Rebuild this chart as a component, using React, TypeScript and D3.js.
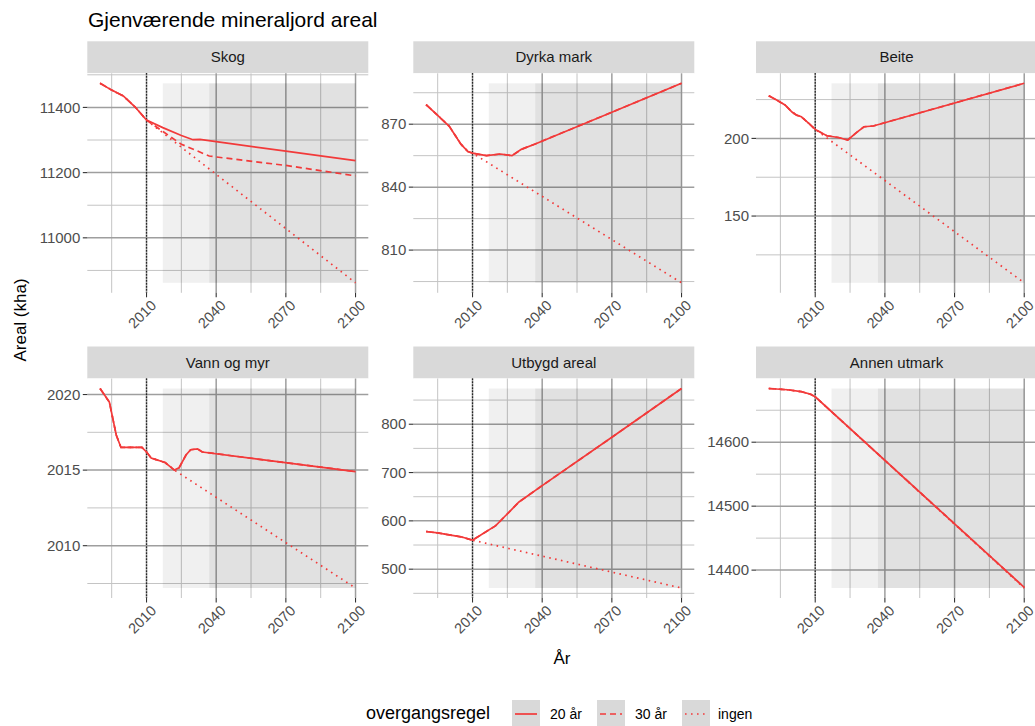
import * as d3 from "d3";

type Pt = [number, number];

// Facets, in reading order
const panelNames = ["Skog", "Dyrka mark", "Beite", "Vann og myr", "Utbygd areal", "Annen utmark"];

// Historical part (shared by all scenarios)
const skogHist: Pt[] = [[1990, 11474], [1995, 11453], [2000, 11435], [2005, 11402], [2010, 11361]];
const dyrkaHist: Pt[] = [[1990, 879.3], [1995, 874.2], [2000, 869], [2005, 860.5], [2008, 857], [2010, 856.2]];
const beiteHist: Pt[] = [[1990, 227.5], [1993, 225], [1997, 221.5], [2000, 217], [2002, 215], [2004, 214], [2007, 210], [2010, 205.8]];
const vannHist: Pt[] = [[1990, 2020.4], [1994, 2019.5], [1997, 2017.3], [1999, 2016.5], [2008, 2016.5], [2010, 2016.2]];
const utbygdHist: Pt[] = [[1990, 578], [1995, 575], [2000, 571], [2005, 567], [2010, 560]];
const annenHist: Pt[] = [[1990, 14684], [1998, 14682], [2004, 14679], [2008, 14675], [2010, 14671]];

// overgangsregel 20 år
const skog20: Pt[] = [[2010, 11361], [2017, 11338], [2025, 11314], [2030, 11301], [2033, 11302], [2040, 11295], [2070, 11266], [2100, 11237]];
const dyrka20: Pt[] = [[2010, 856.2], [2016, 855], [2022, 855.8], [2027, 855], [2031, 858], [2037, 860.6], [2070, 875.7], [2100, 889.5]];
const beite20: Pt[] = [[2010, 205.8], [2015, 201.7], [2020, 200.6], [2024, 199], [2028, 204], [2031, 207.5], [2035, 208], [2100, 235.5]];
const vann20: Pt[] = [[2010, 2016.2], [2012, 2015.8], [2018, 2015.5], [2022, 2015], [2024, 2015.15], [2027, 2016], [2029, 2016.35], [2032, 2016.4], [2034, 2016.2], [2100, 2014.9]];
const utbygd20: Pt[] = [[2010, 560], [2012, 566], [2020, 590], [2030, 639], [2040, 673], [2070, 773], [2100, 874]];
const annen20: Pt[] = [[2010, 14671], [2100, 14373]];

// overgangsregel 30 år
const skog30: Pt[] = [[2010, 11361], [2025, 11287], [2037, 11251], [2040, 11248], [2070, 11222], [2100, 11190]];
const dyrka30: Pt[] = dyrka20;
const beite30: Pt[] = beite20;
const vann30: Pt[] = vann20;
const utbygd30: Pt[] = utbygd20;
const annen30: Pt[] = [[2010, 14671], [2100, 14373]];

// overgangsregel ingen
const skogIngen: Pt[] = [[2010, 11361], [2100, 10862]];
const dyrkaIngen: Pt[] = [[2010, 856.2], [2100, 794.4]];
const beiteIngen: Pt[] = [[2010, 205.8], [2100, 107]];
const vannIngen: Pt[] = [[2010, 2016.2], [2012, 2015.8], [2018, 2015.5], [2022, 2015], [2100, 2007.2]];
const utbygdIngen: Pt[] = [[2010, 560], [2100, 461]];
const annenIngen: Pt[] = [[2010, 14671], [2100, 14372]];

// Axis breaks
const xMajor = [2010, 2040, 2070, 2100];
const xMinor = [1995, 2025, 2055, 2085];
const yMajorByPanel = [
  [11000, 11200, 11400],
  [810, 840, 870],
  [150, 200],
  [2010, 2015, 2020],
  [500, 600, 700, 800],
  [14400, 14500, 14600],
];
const refYear = 2010;
const shadeStarts = [2017, 2037];
const shadeEnd = 2100;

const legendLabels = ["20 år", "30 år", "ingen"];
const legendDash = ["none", "6 4", "1.6 4.4"];

const hists = [skogHist, dyrkaHist, beiteHist, vannHist, utbygdHist, annenHist];
const r20s = [skog20, dyrka20, beite20, vann20, utbygd20, annen20];
const r30s = [skog30, dyrka30, beite30, vann30, utbygd30, annen30];
const ingens = [skogIngen, dyrkaIngen, beiteIngen, vannIngen, utbygdIngen, annenIngen];

const FONT = "'Liberation Sans', Arial, sans-serif";
const RED = "#f23a3a";
const colLeft = [87.3, 413.3, 756];
const rowTop = [41.3, 346.5];
const panelW = 281;
const stripH = 32;
const panelH = 219.5;

function Panel({ idx }: { idx: number }) {
  const left = colLeft[idx % 3];
  const top = rowTop[Math.floor(idx / 3)];
  const pTop = top + stripH;
  const pBottom = pTop + panelH;

  const series = [
    { pts: [...hists[idx], ...ingens[idx].slice(1)], dash: legendDash[2] },
    { pts: [...hists[idx], ...r30s[idx].slice(1)], dash: legendDash[1] },
    { pts: [...hists[idx], ...r20s[idx].slice(1)], dash: legendDash[0] },
  ];
  const all = series.flatMap((s) => s.pts);
  const [x0, x1] = d3.extent(all, (d) => d[0]) as [number, number];
  const [y0, y1] = d3.extent(all, (d) => d[1]) as [number, number];
  const xPad = (x1 - x0) * 0.05;
  const yPad = (y1 - y0) * 0.05;
  const x = d3.scaleLinear().domain([x0 - xPad, x1 + xPad]).range([left, left + panelW]);
  const y = d3.scaleLinear().domain([y0 - yPad, y1 + yPad]).range([pBottom, pTop]);

  const majors = yMajorByPanel[idx];
  const step = majors[1] - majors[0];
  const minors = [majors[0] - step / 2, ...majors.map((m) => m + step / 2)].filter(
    (v) => v >= y.domain()[0] && v <= y.domain()[1],
  );

  const line = d3
    .line<Pt>()
    .x((d) => x(d[0]))
    .y((d) => y(d[1]));

  return (
    <g>
      <rect x={left} y={top} width={panelW} height={stripH} fill="#d9d9d9" />
      <text
        x={left + panelW / 2}
        y={top + stripH / 2 + 5}
        textAnchor="middle"
        fontSize={15}
        fill="#1a1a1a"
      >
        {panelNames[idx]}
      </text>
      <rect x={left} y={pTop} width={panelW} height={panelH} fill="#ffffff" />
      {minors.map((v) => (
        <line key={"ym" + v} x1={left} x2={left + panelW} y1={y(v)} y2={y(v)} stroke="#c4c4c4" strokeWidth={1} />
      ))}
      {xMinor.map((v) => (
        <line key={"xm" + v} x1={x(v)} x2={x(v)} y1={pTop} y2={pBottom} stroke="#c4c4c4" strokeWidth={1} />
      ))}
      {majors.map((v) => (
        <line key={"yM" + v} x1={left} x2={left + panelW} y1={y(v)} y2={y(v)} stroke="#9e9e9e" strokeWidth={1.5} />
      ))}
      {xMajor.map((v) => (
        <line key={"xM" + v} x1={x(v)} x2={x(v)} y1={pTop} y2={pBottom} stroke="#9e9e9e" strokeWidth={1.5} />
      ))}
      {shadeStarts.map((s) => (
        <rect
          key={"sh" + s}
          x={x(s)}
          y={y(y1)}
          width={x(shadeEnd) - x(s)}
          height={y(y0) - y(y1)}
          fill="#000"
          fillOpacity={0.058}
        />
      ))}
      <line
        x1={x(refYear)}
        x2={x(refYear)}
        y1={pTop}
        y2={pBottom}
        stroke="#000"
        strokeWidth={1.3}
        strokeDasharray="1.3 1.7"
      />
      {series.map((s, i) => (
        <path
          key={"s" + i}
          d={line(s.pts) || ""}
          fill="none"
          stroke={RED}
          strokeWidth={1.7}
          strokeDasharray={s.dash}
        />
      ))}
      {majors.map((v) => (
        <g key={"yt" + v}>
          <line x1={left - 4.5} x2={left} y1={y(v)} y2={y(v)} stroke="#333" strokeWidth={1.1} />
          <text x={left - 7} y={y(v)} dy="0.35em" textAnchor="end" fontSize={15} fill="#4d4d4d">
            {v}
          </text>
        </g>
      ))}
      {xMajor.map((v) => (
        <g key={"xt" + v}>
          <line x1={x(v)} x2={x(v)} y1={pBottom} y2={pBottom + 4.5} stroke="#333" strokeWidth={1.1} />
          <text
            transform={`translate(${x(v) + 7},${pBottom + 10}) rotate(-45)`}
            dy="0.35em"
            textAnchor="end"
            fontSize={14.5}
            fill="#4d4d4d"
          >
            {v}
          </text>
        </g>
      ))}
    </g>
  );
}

export default function App() {
  const keyX = [512, 597, 682];
  const labelX = [550, 635, 718];
  return (
    <svg
      width={1035}
      height={726}
      style={{ position: "absolute", left: 0, top: 0, background: "#fff" }}
      fontFamily={FONT}
    >
      <rect width={1035} height={726} fill="#fff" />
      <text x={88} y={27} fontSize={21} fill="#000">
        Gjenværende mineraljord areal
      </text>
      {panelNames.map((_, i) => (
        <Panel key={i} idx={i} />
      ))}
      <text transform="translate(26,320) rotate(-90)" textAnchor="middle" fontSize={17} fill="#000">
        Areal (kha)
      </text>
      <text x={562} y={664} textAnchor="middle" fontSize={17} fill="#000">
        År
      </text>
      <text x={366} y={719} fontSize={18} fill="#000">
        overgangsregel
      </text>
      {legendLabels.map((lab, i) => (
        <g key={lab}>
          <rect x={keyX[i]} y={700} width={28} height={28} fill="#d9d9d9" />
          <line
            x1={keyX[i] + 3}
            x2={keyX[i] + 25}
            y1={714}
            y2={714}
            stroke={RED}
            strokeWidth={1.7}
            strokeDasharray={legendDash[i]}
          />
          <text x={labelX[i]} y={719} fontSize={14} fill="#000">
            {lab}
          </text>
        </g>
      ))}
    </svg>
  );
}
